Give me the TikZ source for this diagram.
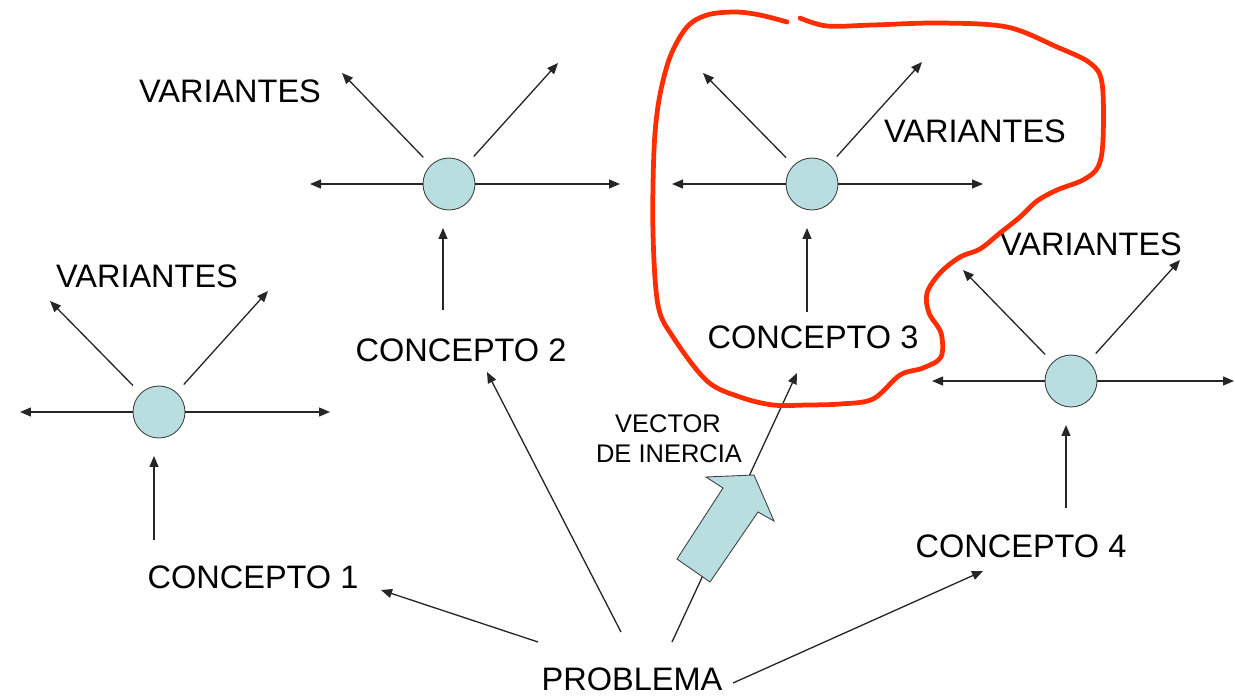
\documentclass[tikz,border=0pt]{standalone}
\usepackage{fontspec}
\setmainfont{Liberation Sans}
\usetikzlibrary{arrows.meta}
\definecolor{bubble}{RGB}{184,222,224}
\definecolor{marker}{RGB}{255,45,0}
\begin{document}
\begin{tikzpicture}[x=0.02cm,y=-0.02cm,
  lbl/.style={font=\fontsize{18.5}{22}\selectfont, anchor=base, inner sep=0},
  smalllbl/.style={font=\fontsize{14.5}{17}\selectfont, anchor=base, inner sep=0},
  hub/.style={circle, draw=black!75, fill=bubble, minimum size=1.04cm, inner sep=0, outer sep=0, line width=0.5pt},
  arr/.style={-{Triangle[length=0.22cm,width=0.18cm]}, line width=0.75pt, black!85},
  gap/.style={shorten <=0.22cm},
  rise/.style={shorten >=0.36cm},
  bigarrow/.style={draw=black!75, fill=bubble, line width=0.5pt, line join=miter},
  ink/.style={draw=marker, line width=0.095cm, line cap=round, line join=round}
]
\useasboundingbox (0,0) rectangle (1235,697);

% ---- concept hubs ----
\node[hub] (k1) at (159,412) {};
\node[hub] (k2) at (449,184) {};
\node[hub] (k3) at (812,184) {};
\node[hub] (k4) at (1071,381) {};

% ---- labels ----
\node[lbl] (v1) at (147,287) {VARIANTES};
\node[lbl] (v2) at (230,102) {VARIANTES};
\node[lbl] (v3) at (975,142) {VARIANTES};
\node[lbl] (v4) at (1091,255) {VARIANTES};
\node[lbl] (c1) at (253,588) {CONCEPTO 1};
\node[lbl] (c2) at (461,361) {CONCEPTO 2};
\node[lbl] (c3) at (813,348) {CONCEPTO 3};
\node[lbl] (c4) at (1021,557) {CONCEPTO 4};
\node[lbl] (prob) at (632,690) {PROBLEMA};
\node[smalllbl] (vec1) at (668,432) {VECTOR};
\node[smalllbl] (vec2) at (669,462) {DE INERCIA};

% ---- variant end points ----
\coordinate (k1l) at (20,412);   \coordinate (k1r) at (330,412);
\coordinate (k1a) at (50,301);   \coordinate (k1b) at (268,291);
\coordinate (k2l) at (310,184);  \coordinate (k2r) at (620,184);
\coordinate (k2a) at (342,73);   \coordinate (k2b) at (558,63);
\coordinate (k3l) at (672,184);  \coordinate (k3r) at (983,184);
\coordinate (k3a) at (703,73);   \coordinate (k3b) at (922,62);
\coordinate (k4l) at (932,381);  \coordinate (k4r) at (1234,381);
\coordinate (k4a) at (963,270);  \coordinate (k4b) at (1180,260);

\foreach \k in {k1,k2,k3,k4}{
  \draw[arr] (\k) -- (\k l);
  \draw[arr] (\k) -- (\k r);
  \draw[arr,gap] (\k) -- (\k a);
  \draw[arr,gap] (\k) -- (\k b);
}

% ---- concept to hub ----
\coordinate (c1t) at (154,540);
\coordinate (c2t) at (443,310);
\coordinate (c3t) at (807,312);
\coordinate (c4t) at (1066,508);
\draw[arr,rise] (c1t) -- (c1t |- k1.south);
\draw[arr,rise] (c2t) -- (c2t |- k2.south);
\draw[arr,rise] (c3t) -- (c3t |- k3.south);
\draw[arr,rise] (c4t) -- (c4t |- k4.south);

% ---- problem to concepts ----
\coordinate (p1) at (538,642);  \coordinate (e1) at (381,590);
\coordinate (p2) at (621,632);  \coordinate (e2) at (487,372);
\coordinate (p3) at (672,642);  \coordinate (e3) at (797,373);
\coordinate (p4) at (733,683);  \coordinate (e4) at (983,571);
\draw[arr] (p1) -- (e1);
\draw[arr] (p2) -- (e2);
\draw[arr] (p3) -- (e3);
\draw[arr] (p4) -- (e4);

% ---- inertia vector ----
\draw[bigarrow] (677,559) -- (710,582) -- (758,512) -- (774,521) -- (754,475)
  -- (706,477) -- (723,488) -- cycle;

% ---- hand-drawn outline around concept 3 ----
\draw[ink] plot[smooth, tension=0.55] coordinates {
  (787,22) (760,15) (735,12) (707,15) (687,27) (670,57) (659,100) (654,150)
  (653,233) (658,305) (673,337) (707,381) (740,397) (773,405) (807,405)
  (840,404) (873,399) (900,375) (923,368) (941,357) (941,333) (929,313)
  (927,293) (940,273) (960,257) (980,249) (1000,233) (1020,217) (1037,201)
  (1057,190) (1083,180) (1098,167) (1103,140) (1102,83) (1090,63) (1057,47)
  (1007,27) (940,23) (873,25) (827,26) (800,18)
};
\end{tikzpicture}
\end{document}
